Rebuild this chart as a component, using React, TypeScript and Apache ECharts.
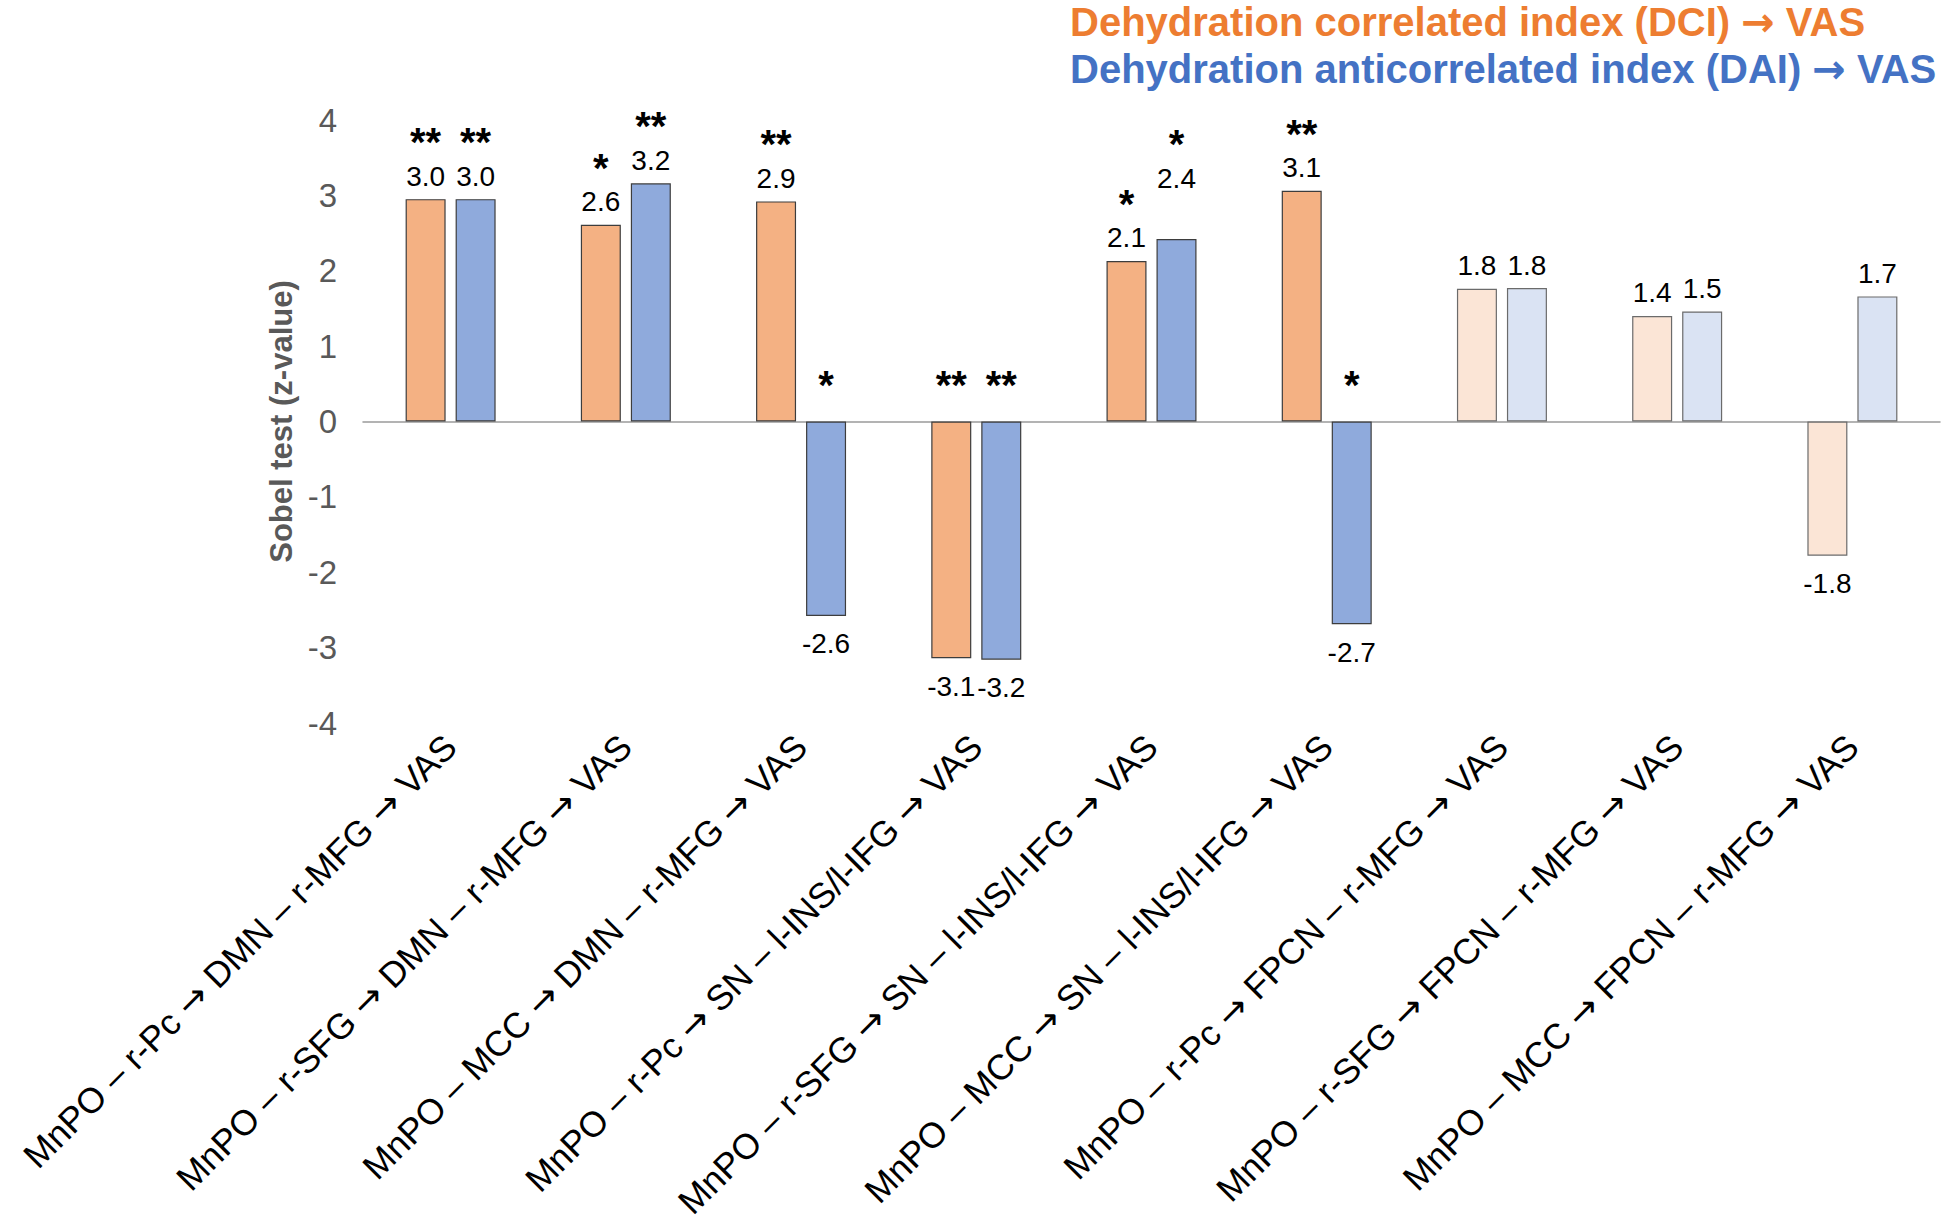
import React, { useEffect, useRef } from "react";
import * as echarts from "echarts";

const categories = [
  "MnPO – r-Pc → DMN – r-MFG → VAS",
  "MnPO – r-SFG → DMN – r-MFG → VAS",
  "MnPO – MCC → DMN – r-MFG → VAS",
  "MnPO – r-Pc → SN – l-INS/l-IFG → VAS",
  "MnPO – r-SFG → SN – l-INS/l-IFG → VAS",
  "MnPO – MCC → SN – l-INS/l-IFG → VAS",
  "MnPO – r-Pc → FPCN – r-MFG → VAS",
  "MnPO – r-SFG → FPCN – r-MFG → VAS",
  "MnPO – MCC → FPCN – r-MFG → VAS",
];

const dciName = "Dehydration correlated index (DCI) → VAS";
const daiName = "Dehydration anticorrelated index (DAI) → VAS";

const dciValues = [2.95, 2.61, 2.92, -3.14, 2.13, 3.06, 1.76, 1.4, -1.78];
const daiValues = [2.95, 3.16, -2.58, -3.16, 2.42, -2.69, 1.77, 1.46, 1.66];
const dciStars = ["**", "*", "**", "**", "*", "**", "", "", ""];
const daiStars = ["**", "**", "*", "**", "*", "*", "", "", ""];
const significant = [true, true, true, true, true, true, false, false, false];

const yTicks = { min: -4, max: 4, interval: 1 };

// extra upward nudge (px) of a few hand-placed data labels in the original figure
const labelNudge: Record<string, Record<number, number>> = {
  dci: {},
  dai: { 4: 38 },
};

const FONT = "'Liberation Sans', Arial, sans-serif";
const ARROW_FONT = "'DejaVu Sans', sans-serif";

const ORANGE = "#F4B183";
const ORANGE_FADED = "#FBE5D6";
const BLUE = "#8FAADC";
const BLUE_FADED = "#DAE3F3";

function withArrows(s: string) {
  return s
    .split("→")
    .map((part) => `{t|${part}}`)
    .join("{a|→}");
}

function mainData(
  values: number[],
  stars: string[],
  strong: string,
  faded: string,
  nudge: Record<number, number>
) {
  return values.map((v, i) => {
    const txt = v.toFixed(1);
    const star = stars[i];
    const pos = v >= 0;
    return {
      value: v,
      itemStyle: {
        color: significant[i] ? strong : faded,
        borderColor: significant[i] ? "#3d3d3d" : "#6b6b6b",
        borderWidth: 1.2,
      },
      label: {
        show: true,
        position: pos ? "top" : "bottom",
        distance: (pos ? 10 : 15) + (nudge[i] || 0),
        formatter: pos && star ? `{s|${star}}\n{v|${txt}}` : `{v|${txt}}`,
      },
    };
  });
}

function starData(values: number[], stars: string[]) {
  return values.map((v, i) => {
    const show = v < 0 && stars[i] !== "";
    return {
      value: v,
      label: {
        show,
        position: "top",
        distance: 16,
        formatter: `{s|${stars[i]}}`,
      },
    };
  });
}

const rich = {
  s: { fontSize: 40, fontWeight: "bold", lineHeight: 42, color: "#000", fontFamily: FONT },
  v: { fontSize: 28, lineHeight: 26, color: "#000", fontFamily: FONT },
};

export default function App() {
  const ref = useRef<HTMLDivElement>(null);
  useEffect(() => {
    if (!ref.current) return;
    const chart = echarts.init(ref.current, undefined, { renderer: "svg" });
    const barCommon = {
      type: "bar",
      barWidth: 40,
      barGap: "25%",
    };
    chart.setOption({
      animation: false,
      backgroundColor: "#fff",
      textStyle: { fontFamily: FONT },
      legend: {
        data: [
          { name: dciName, textStyle: { color: "#ED7D31" } },
          { name: daiName, textStyle: { color: "#4472C4" } },
        ],
        orient: "vertical",
        left: 1065,
        top: 2,
        itemWidth: 0,
        itemHeight: 0,
        itemGap: 7,
        padding: 0,
        selectedMode: false,
        formatter: (name: string) => withArrows(name),
        textStyle: {
          fontSize: 40,
          fontWeight: "bold",
          lineHeight: 40,
          fontFamily: FONT,
          rich: {
            t: { fontSize: 40, fontWeight: "bold", lineHeight: 40, fontFamily: FONT },
            a: { fontSize: 40, fontWeight: "bold", lineHeight: 40, fontFamily: ARROW_FONT },
          },
        },
      },
      grid: {
        left: 363,
        right: 4,
        top: 120,
        bottom: 503,
        containLabel: false,
        outerBoundsMode: "none",
      },
      xAxis: [
        {
          type: "category",
          data: categories,
          position: "bottom",
          axisLine: { show: false, onZero: false },
          axisTick: { show: false },
          axisLabel: {
            interval: 0,
            rotate: 45,
            fontSize: 35.5,
            color: "#000",
            margin: 18,
            fontFamily: FONT,
            formatter: (v: string) => withArrows(v),
            rich: {
              t: { fontSize: 35.5, color: "#000", fontFamily: FONT },
              a: { fontSize: 35.5, color: "#000", fontFamily: ARROW_FONT },
            },
          },
        },
        {
          type: "category",
          data: categories,
          position: "bottom",
          axisLine: { show: true, onZero: true, lineStyle: { color: "#9a9a9a", width: 1.5 } },
          axisTick: { show: false },
          axisLabel: { show: false },
        },
      ],
      yAxis: {
        type: "value",
        min: yTicks.min,
        max: yTicks.max,
        interval: yTicks.interval,
        splitLine: { show: false },
        axisLine: { show: false },
        axisTick: { show: false },
        axisLabel: { fontSize: 33, color: "#595959", margin: 26, fontFamily: FONT },
        name: "Sobel test (z-value)",
        nameLocation: "middle",
        nameRotate: 90,
        nameGap: 65,
        nameTextStyle: { fontSize: 31, fontWeight: "bold", color: "#595959", fontFamily: FONT },
      },
      series: [
        {
          ...barCommon,
          name: dciName,
          xAxisIndex: 0,
          itemStyle: { color: ORANGE },
          label: { rich },
          data: mainData(dciValues, dciStars, ORANGE, ORANGE_FADED, labelNudge.dci),
        },
        {
          ...barCommon,
          name: daiName,
          xAxisIndex: 0,
          itemStyle: { color: BLUE },
          label: { rich },
          data: mainData(daiValues, daiStars, BLUE, BLUE_FADED, labelNudge.dai),
        },
        {
          ...barCommon,
          name: "DCI significance",
          xAxisIndex: 1,
          silent: true,
          itemStyle: { color: "rgba(0,0,0,0)", borderWidth: 0 },
          label: { rich },
          data: starData(dciValues, dciStars),
        },
        {
          ...barCommon,
          name: "DAI significance",
          xAxisIndex: 1,
          silent: true,
          itemStyle: { color: "rgba(0,0,0,0)", borderWidth: 0 },
          label: { rich },
          data: starData(daiValues, daiStars),
        },
      ],
    });
    return () => chart.dispose();
  }, []);
  return (
    <div
      ref={ref}
      style={{ position: "absolute", left: 0, top: 0, width: 1944, height: 1226, background: "#fff" }}
    />
  );
}
